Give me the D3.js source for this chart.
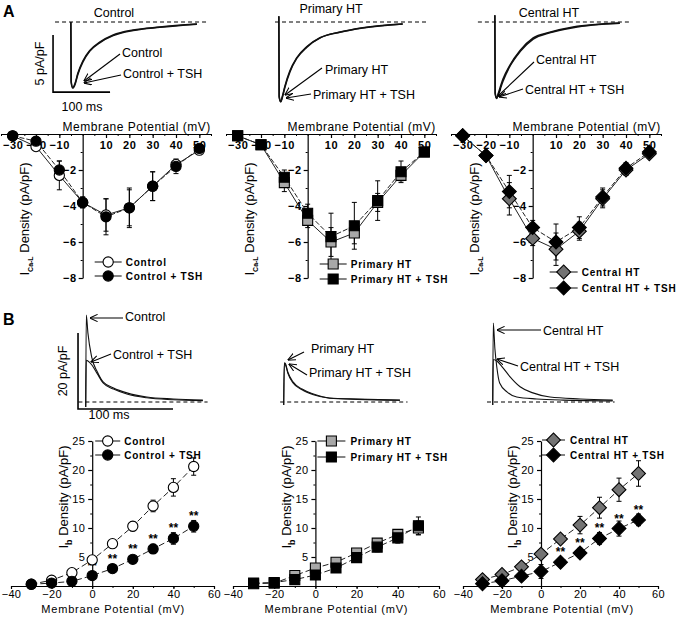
<!DOCTYPE html>
<html><head><meta charset="utf-8">
<script src="https://cdn.jsdelivr.net/npm/d3@7"></script>
<style>body{margin:0;background:#fff}svg{display:block}</style>
</head><body><svg id="c" width="680" height="621"></svg>
<script>
// ---------------- DATA ----------------
const voltages = [-30,-20,-10,0,10,20,30,40,50];
// Panel A: I Ca-L density (pA/pF)
const controlA      = [-0.1,-0.7,-2.3,-3.8,-4.5,-4.1,-2.9,-1.7,-0.9];
const controlTshA   = [-0.1,-0.4,-2.0,-3.8,-4.6,-4.1,-2.9,-1.8,-0.8];
const primaryA      = [-0.1,-0.6,-2.7,-4.8,-6.0,-5.5,-3.8,-2.3,-1.0];
const primaryTshA   = [-0.1,-0.6,-2.4,-4.4,-5.7,-5.1,-3.7,-2.1,-1.0];
const centralA      = [-0.1,-1.2,-3.6,-5.8,-6.4,-5.4,-3.6,-2.0,-1.1];
const centralTshA   = [-0.1,-1.2,-3.2,-5.2,-6.0,-5.2,-3.5,-1.9,-1.0];
const controlErrA    = [0.1,0.2,0.8,0.3,0.9,1.0,0.8,0.3,0.1];
const controlTshErrA = [0.1,0.2,0.5,0.3,1.0,1.1,0.8,0.4,0.1];
const primaryErrA    = [0.1,0.2,0.5,0.4,0.8,0.6,0.5,0.3,0.1];
const primaryTshErrA = [0.1,0.2,0.4,0.5,1.3,1.3,1.1,0.6,0.1];
const centralErrA    = [0.1,0.2,0.9,0.4,0.9,0.5,0.5,0.3,0.1];
const centralTshErrA = [0.1,0.2,0.9,0.4,1.0,0.6,0.5,0.3,0.1];
// Panel B: I b density (pA/pF)
const controlB      = [0.3,1.0,2.3,4.5,7.3,10.3,13.8,17.0,20.6];
const controlTshB   = [0.3,0.5,0.8,1.8,3.0,4.6,6.4,8.2,10.3];
const primaryB      = [0.4,0.5,1.8,3.1,4.1,5.7,7.4,8.9,10.0];
const primaryTshB   = [0.5,0.6,1.1,1.9,3.1,4.9,6.7,8.3,10.4];
const centralB      = [1.1,2.0,3.3,5.5,8.1,10.5,13.5,16.6,19.4];
const centralTshB   = [0.4,0.9,1.7,2.5,4.1,5.7,8.2,9.9,11.4];
const controlErrB    = [0.2,0.3,0.4,0.5,0.6,0.8,1.0,1.5,1.5];
const controlTshErrB = [0.2,0.2,0.3,0.4,0.5,0.6,0.8,1.0,1.0];
const primaryErrB    = [0.2,0.2,0.3,0.4,0.5,0.5,0.6,0.8,1.2];
const primaryTshErrB = [0.2,0.2,0.3,0.4,0.4,0.6,0.8,0.9,1.5];
const centralErrB    = [0.3,0.4,0.5,0.6,0.7,1.5,1.8,2.0,2.2];
const centralTshErrB = [0.2,0.3,0.4,1.2,0.7,0.8,1.0,1.3,1.0];
const sigControlB = [0,10,20,30,40,50];
const sigCentralB = [10,20,30,40,50];
// tick labels
const xTicksA = [-30,-20,-10,10,20,30,40,50];
const yTicksA = [-2,-4,-6,-8];
const xTicksB = [-40,-20,0,20,40,60];
const yTicksB = [5,10,15,20,25];
// example current traces [time ms, current pA/pF]
const controlTraceA    = [[-0.3,0],[0.3,-5.2],[3,-5.75],[7,-5.4],[12,-4.5],[21,-3.4],[33,-2.5],[51,-1.75],[74,-1.14],[109,-0.7],[156,-0.44],[221,-0.18]];
const controlTshTraceA = [[-0.3,0],[0.3,-5.3],[3,-5.8],[7,-5.5],[12,-4.6],[21,-3.5],[33,-2.55],[51,-1.8],[74,-1.2],[109,-0.75],[156,-0.47],[221,-0.2]];
const primaryTraceA    = [[-0.3,0.5],[0.3,-6.5],[3,-7.0],[6,-6.6],[10.5,-5.7],[19,-4.4],[31,-3.2],[49,-2.2],[72,-1.4],[107,-0.9],[147,-0.53],[217,-0.18]];
const primaryTshTraceA = [[-0.3,0.5],[0.3,-6.6],[3,-7.0],[6,-6.5],[10.5,-5.6],[19,-4.3],[31,-3.15],[49,-2.15],[72,-1.38],[107,-0.88],[147,-0.5],[217,-0.17]];
const centralTraceA    = [[-0.3,0.6],[0.3,-6.2],[3,-6.7],[5.5,-6.3],[14,-5.0],[26,-3.8],[44,-2.5],[67,-1.4],[96,-0.9],[137,-0.44],[219,-0.09]];
const centralTshTraceA = [[-0.3,0.6],[0.3,-6.3],[3,-6.7],[5.5,-6.4],[14,-5.2],[26,-3.9],[44,-2.6],[67,-1.5],[96,-0.95],[137,-0.5],[219,-0.12]];
const controlTraceB    = [[-0.3,-1.3],[0.3,22.9],[2,18.2],[6,11.8],[12,7.9],[18,5.3],[29,3.7],[43,2.4],[64,1.3],[92,0.8],[123,0.5]];
const controlTshTraceB = [[-0.3,-1.3],[0.3,11],[2,10.8],[6,9.8],[12,7.4],[18,5.0],[29,3.4],[43,2.1],[64,1.1],[92,0.6],[123,0.35]];
const primaryTraceB    = [[-0.3,-0.8],[0.3,10.3],[1.5,10.1],[4,7.9],[9.5,5.3],[19,3.4],[31,2.1],[48,1.05],[77,0.8],[122,0.5]];
const primaryTshTraceB = [[-0.3,-0.8],[0.3,10.0],[1.5,9.8],[4,7.6],[9.5,5.0],[19,3.2],[31,1.9],[48,1.0],[77,0.7],[122,0.45]];
const centralTraceB    = [[-0.3,-0.8],[0.3,20.8],[2,14],[4,9.2],[7,5.0],[15,2.6],[25,1.3],[46,0.8],[74,0.5],[126,0.3]];
const centralTshTraceB = [[-0.3,-0.8],[0.3,11.2],[4,10.8],[10.5,9.0],[18,6.6],[28.5,4.0],[42,2.4],[60,1.3],[92,0.8],[126,0.5]];

// ---------------- DRAW ----------------
const FONT = "'Liberation Sans', Arial, sans-serif";
const svg = d3.select('#c');
svg.append('rect').attr('width',680).attr('height',621).attr('fill','#fff');
svg.append('defs').append('marker').attr('id','ah').attr('viewBox','0 0 10 10')
  .attr('refX',9.5).attr('refY',5).attr('markerWidth',8).attr('markerHeight',8)
  .attr('markerUnits','userSpaceOnUse').attr('orient','auto')
  .append('path').attr('d','M0,0.5 L10,5 L0,9.5').attr('fill','none').attr('stroke','#000').attr('stroke-width',1.3);

function text(g, x, y, s, o={}) {
  return g.append('text').attr('x',x).attr('y',y).text(s)
    .attr('font-family',FONT).attr('font-size',o.size||12).attr('font-weight',o.weight||'normal')
    .attr('text-anchor',o.anchor||'start').attr('letter-spacing',o.ls||0).attr('fill','#000');
}

// panel letters
text(svg,3,17,'A',{size:16,weight:'bold'});
text(svg,3,325,'B',{size:16,weight:'bold'});

// ---- traces ----
function tracePanel(o){
  const g = svg.append('g');
  const tx = d3.scaleLinear().domain([0,100]).range([o.x0, o.x0 + o.msPx*100]);
  const ty = d3.scaleLinear().domain([0,10]).range([o.base, o.base - o.unitPx*10]);
  g.append('line').attr('x1',tx(o.win[0])).attr('x2',tx(o.win[1])).attr('y1',ty(0)).attr('y2',ty(0))
    .attr('stroke','#000').attr('stroke-width',1).attr('stroke-dasharray','4,3');
  const line = d3.line().x(d=>tx(d[0])).y(d=>ty(d[1])).curve(d3.curveMonotoneX);
  o.traces.forEach(tr=>g.append('path').datum(tr).attr('d',line).attr('fill','none')
    .attr('stroke','#111').attr('stroke-width',o.sw));
  if (o.bar) {
    const b = o.bar;
    g.append('path').attr('d',`M${tx(b.t0)},${ty(b.i0+b.di)}V${ty(b.i0)}H${tx(b.t0+b.dt)}`)
      .attr('fill','none').attr('stroke','#000').attr('stroke-width',1.6);
    const cy = (ty(b.i0+b.di)+ty(b.i0))/2;
    text(g,0,0,b.ilabel,{size:12.5,anchor:'middle'})
      .attr('transform',`translate(${tx(b.t0)-b.lx},${cy}) rotate(-90)`);
    text(g,b.tlx,b.tly,'100 ms',{size:12.5,anchor:'middle'});
  }
  if (o.title) text(g,o.title.x,o.title.y,o.title.s,{size:12.5,anchor:'middle'});
  o.notes.forEach(n=>{
    g.append('line').attr('x1',n.from[0]).attr('y1',n.from[1]).attr('x2',n.to[0]).attr('y2',n.to[1])
      .attr('stroke','#000').attr('stroke-width',1.1).attr('marker-end','url(#ah)');
    text(g,n.x,n.y,n.s,{size:12.5});
  });
}

tracePanel({x0:71,base:22,msPx:0.57,unitPx:11.4,win:[-28,240],sw:1.5,
  traces:[controlTraceA,controlTshTraceA],
  bar:{t0:-31.5,i0:-6.15,di:5,dt:100,ilabel:'5 pA/pF',lx:9,tlx:82,tly:111},
  title:{x:114,y:17,s:'Control'},
  notes:[{s:'Control',x:122,y:57,from:[120,54],to:[84,81]},
         {s:'Control + TSH',x:123,y:78,from:[121,75],to:[84,83]}]});
tracePanel({x0:279,base:22,msPx:0.57,unitPx:11.4,win:[-7,261],sw:1.5,
  traces:[primaryTraceA,primaryTshTraceA],
  title:{x:331,y:13,s:'Primary HT'},
  notes:[{s:'Primary HT',x:325,y:74,from:[322,68],to:[285,95]},
         {s:'Primary HT + TSH',x:313,y:99,from:[311,94],to:[286,98]}]});
tracePanel({x0:495,base:22,msPx:0.57,unitPx:11.4,win:[-30,240],sw:1.5,
  traces:[centralTraceA,centralTshTraceA],
  title:{x:549,y:17,s:'Central HT'},
  notes:[{s:'Central HT',x:536,y:64,from:[534,62],to:[498,96]},
         {s:'Central HT + TSH',x:525,y:94,from:[523,89],to:[499,97]}]});

tracePanel({x0:86,base:402,msPx:0.95,unitPx:3.8,win:[-8,128],sw:1.1,
  traces:[controlTraceB,controlTshTraceB],
  bar:{t0:-8.4,i0:-1.84,di:20,dt:100,ilabel:'20 pA/pF',lx:11,tlx:109,tly:419},
  notes:[{s:'Control',x:125,y:321,from:[123,318],to:[90,318]},
         {s:'Control + TSH',x:113,y:359,from:[111,354],to:[91,362]}]});
tracePanel({x0:284,base:402,msPx:0.95,unitPx:3.8,win:[-4,130],sw:1.1,
  traces:[primaryTraceB,primaryTshTraceB],
  notes:[{s:'Primary HT',x:311,y:353,from:[304,352],to:[288,360]},
         {s:'Primary HT + TSH',x:309,y:377,from:[307,375],to:[289,364]}]});
tracePanel({x0:493,base:402,msPx:0.95,unitPx:3.8,win:[-6.3,128],sw:1.1,
  traces:[centralTraceB,centralTshTraceB],
  notes:[{s:'Central HT',x:543,y:335,from:[541,330],to:[497,330]},
         {s:'Central HT + TSH',x:520,y:371,from:[518,366],to:[497,359]}]});

// ---- IV panels ----
const symGen = {
  circle: d3.symbol().type(d3.symbolCircle).size(82),
  square: d3.symbol().type(d3.symbolSquare).size(100),
  diamond: d3.symbol().type(d3.symbolSquare).size(96)
};
function marker(g, shape, cx, cy, fill){
  g.append('path').attr('d',symGen[shape]())
    .attr('transform',`translate(${cx},${cy})`+(shape==='diamond'?' rotate(45)':''))
    .attr('fill',fill).attr('stroke','#000').attr('stroke-width',1.1);
}
function ivPanel(o){
  const g = svg.append('g');
  const x = d3.scaleLinear().domain(o.xDomain).range(o.xRange);
  const y = d3.scaleLinear().domain(o.yDomain).range(o.yRange);
  const ax = x(0), ay = y(0);
  // x axis
  const xg = g.append('g').attr('transform',`translate(0,${ay})`)
    .call(d3.axisBottom(x).tickValues(o.xTicks).tickSize(o.xTickLen).tickSizeOuter(0).tickPadding(o.xPad).tickFormat(d3.format('d')));
  g.append('g').attr('transform',`translate(0,${ay})`)
    .call(d3.axisBottom(x).tickValues(o.xMinor).tickSize(2).tickSizeOuter(0).tickFormat(''))
    .select('.domain').remove();
  // y axis
  const yg = g.append('g').attr('transform',`translate(${ax},0)`)
    .call(d3.axisLeft(y).tickValues(o.yTicks).tickSize(4).tickSizeOuter(0).tickPadding(o.yPad).tickFormat(d3.format('d')));
  g.append('g').attr('transform',`translate(${ax},0)`)
    .call(d3.axisLeft(y).tickValues(o.yMinor).tickSize(2).tickSizeOuter(0).tickFormat(''))
    .select('.domain').remove();
  [xg,yg].forEach(a=>{
    a.selectAll('.domain,line').attr('stroke','#000').attr('stroke-width',1.2);
    a.selectAll('text').attr('font-family',FONT).attr('font-size',o.tickSize)
      .attr('font-weight',o.tickWeight).attr('letter-spacing',o.tickLs).attr('fill','#000');
  });
  // titles
  text(g, ax + o.xTitleDx, o.xTitleY, 'Membrane Potential (mV)',{size:o.xTitleSize,anchor:'middle',ls:o.xTitleLs});
  const yt = text(g,0,0,'',{size:13,anchor:'middle'})
    .attr('transform',`translate(${ax + o.yTitleDx},${o.yTitleY}) rotate(-90)`).attr('dy','0.35em');
  yt.append('tspan').text('I');
  yt.append('tspan').text(o.sub).attr('font-size',o.subSize).attr('font-weight','bold').attr('dy',4);
  yt.append('tspan').text(' Density (pA/pF)').attr('dy',-4);
  // series lines
  o.series.forEach(s=>{
    const pts = voltages.map((v,i)=>[v,s.values[i]]);
    g.append('path').datum(pts).attr('d',d3.line().x(d=>x(d[0])).y(d=>y(d[1])))
      .attr('fill','none').attr('stroke','#222').attr('stroke-width',1).attr('stroke-dasharray',s.dash||null);
  });
  // significance stars
  if (o.sig) o.sig.v.forEach(v=>{
    const i = voltages.indexOf(v);
    text(g, x(v), y(o.sig.values[i]) - 6, '**',{size:12,anchor:'middle',weight:'bold'});
  });
  // error bars
  o.series.forEach(s=>{
    voltages.forEach((v,i)=>{
      const y1 = y(s.values[i]-s.errs[i]), y2 = y(s.values[i]+s.errs[i]), cx = x(v);
      g.append('path').attr('d',`M${cx},${y1}V${y2}M${cx-2.5},${y1}H${cx+2.5}M${cx-2.5},${y2}H${cx+2.5}`)
        .attr('stroke','#000').attr('stroke-width',1).attr('fill','none');
    });
  });
  // markers
  o.series.forEach(s=>voltages.forEach((v,i)=>marker(g,s.shape,x(v),y(s.values[i]),s.fill)));
  // legend
  o.series.forEach((s,k)=>{
    const ly = o.legend.ys[k];
    g.append('line').attr('x1',ax+o.legend.x1).attr('x2',ax+o.legend.x2).attr('y1',ly).attr('y2',ly)
      .attr('stroke','#222').attr('stroke-width',1.1);
    marker(g,s.shape,ax+(o.legend.x1+o.legend.x2)/2,ly,s.fill);
    text(g,ax+o.legend.tx,ly,s.name,{size:10,weight:'bold',ls:0.8}).attr('dy','0.36em');
  });
}

const commonA = {xDomain:[-35,55], yDomain:[0,-8], yRange:[134,278], xTicks:xTicksA,
  xMinor:d3.range(-35,56,5), yTicks:yTicksA, yMinor:d3.range(-1,-8.5,-1), xTickLen:4, xPad:3, yPad:2,
  tickSize:11, tickWeight:'bold', tickLs:0.6, xTitleDx:54, xTitleY:131, xTitleSize:12, xTitleLs:0.5,
  yTitleDx:-58, yTitleY:219, sub:'Ca-L', subSize:7};
const commonB = {xDomain:[-40,60], yDomain:[0,25], yRange:[586,441], xTicks:xTicksB,
  xMinor:d3.range(-40,61,10), yTicks:yTicksB, yMinor:d3.range(0,25,2.5), xTickLen:3, xPad:1, yPad:3,
  tickSize:11, tickWeight:'normal', tickLs:0.3, xTitleDx:21, xTitleY:613, xTitleSize:11, xTitleLs:0.8,
  yTitleDx:-29, yTitleY:497, sub:'b', subSize:9};

ivPanel(Object.assign({}, commonA, {xRange:[1,211],
  series:[{name:'Control',values:controlA,errs:controlErrA,shape:'circle',fill:'#fff'},
          {name:'Control + TSH',values:controlTshA,errs:controlTshErrA,shape:'circle',fill:'#000',dash:'5,2'}],
  legend:{x1:12,x2:39,tx:43,ys:[262,276]}}));
ivPanel(Object.assign({}, commonA, {xRange:[226,436],
  series:[{name:'Primary HT',values:primaryA,errs:primaryErrA,shape:'square',fill:'#a8a8a8'},
          {name:'Primary HT + TSH',values:primaryTshA,errs:primaryTshErrA,shape:'square',fill:'#000',dash:'5,2'}],
  legend:{x1:12,x2:39,tx:43,ys:[264,279]}}));
ivPanel(Object.assign({}, commonA, {xRange:[451,661],
  series:[{name:'Central HT',values:centralA,errs:centralErrA,shape:'diamond',fill:'#737373'},
          {name:'Central HT + TSH',values:centralTshA,errs:centralTshErrA,shape:'diamond',fill:'#000',dash:'5,2'}],
  legend:{x1:17,x2:45,tx:49,ys:[272,288]}}));

ivPanel(Object.assign({}, commonB, {xRange:[11,214],
  series:[{name:'Control',values:controlB,errs:controlErrB,shape:'circle',fill:'#fff',dash:'6,3'},
          {name:'Control + TSH',values:controlTshB,errs:controlTshErrB,shape:'circle',fill:'#000',dash:'6,3'}],
  sig:{v:sigControlB,values:controlTshB},
  legend:{x1:3,x2:28,tx:32,ys:[441,455]}}));
ivPanel(Object.assign({}, commonB, {xRange:[233,439],
  series:[{name:'Primary HT',values:primaryB,errs:primaryErrB,shape:'square',fill:'#a8a8a8',dash:'6,3'},
          {name:'Primary HT + TSH',values:primaryTshB,errs:primaryTshErrB,shape:'square',fill:'#000',dash:'6,3'}],
  legend:{x1:2,x2:30,tx:35,ys:[441,457]}}));
ivPanel(Object.assign({}, commonB, {xRange:[463,658],
  series:[{name:'Central HT',values:centralB,errs:centralErrB,shape:'diamond',fill:'#737373',dash:'6,3'},
          {name:'Central HT + TSH',values:centralTshB,errs:centralTshErrB,shape:'diamond',fill:'#000',dash:'6,3'}],
  sig:{v:sigCentralB,values:centralTshB},
  legend:{x1:1,x2:24,tx:29,ys:[440,455]}}));
</script></body></html>
